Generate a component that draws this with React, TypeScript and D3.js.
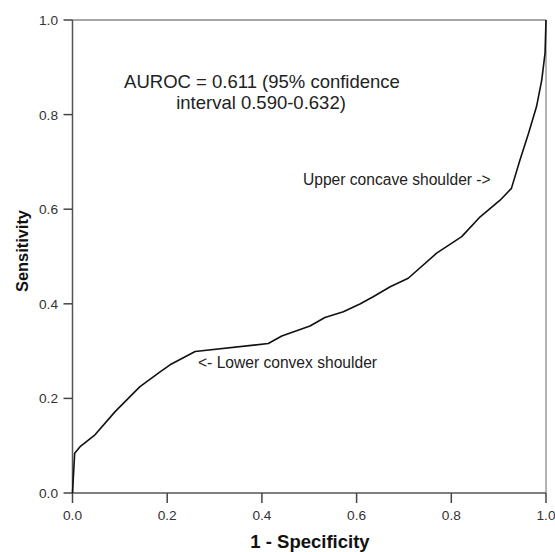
import React from "react";
import * as d3 from "d3";

// ROC curve coordinates (false positive rate vs. true positive rate)
const fpr = [0, 0.0046, 0.016, 0.0475, 0.09, 0.1425, 0.185, 0.206, 0.259, 0.4135, 0.442, 0.5016, 0.533, 0.572, 0.607, 0.635, 0.671, 0.709, 0.769, 0.822, 0.861, 0.903, 0.927, 0.945, 0.963, 0.98, 0.991, 0.998, 1.0];
const tpr = [0, 0.084, 0.098, 0.123, 0.172, 0.225, 0.256, 0.271, 0.299, 0.316, 0.332, 0.353, 0.371, 0.383, 0.3996, 0.415, 0.436, 0.454, 0.507, 0.542, 0.584, 0.619, 0.644, 0.704, 0.76, 0.817, 0.873, 0.93, 1.0];

const xTicks = [0, 0.2, 0.4, 0.6, 0.8, 1.0];
const yTicks = [0, 0.2, 0.4, 0.6, 0.8, 1.0];

const aucLines = ["AUROC = 0.611 (95% confidence", "interval 0.590-0.632)"];
const upperNote = "Upper concave shoulder ->";
const lowerNote = "<- Lower convex shoulder";
const xTitle = "1 - Specificity";
const yTitle = "Sensitivity";

const W = 555;
const H = 552;
const left = 72.5;
const right = 546;
const top = 20;
const bottom = 493;

export default function App() {
  const x = d3.scaleLinear().domain([0, 1]).range([left, right]);
  const y = d3.scaleLinear().domain([0, 1]).range([bottom, top]);
  const fmt = d3.format(".1f");
  const pts: [number, number][] = fpr.map((f, i) => [f, tpr[i]]);
  const line = d3
    .line<[number, number]>()
    .x((d) => x(d[0]))
    .y((d) => y(d[1]));

  const font = "'Liberation Sans', Arial, sans-serif";

  return (
    <svg
      width={W}
      height={H}
      style={{ position: "absolute", left: 0, top: 0, background: "#fff" }}
      fontFamily={font}
    >
      <rect x={0} y={0} width={W} height={H} fill="#fff" />
      {/* frame: top and right edges */}
      <line x1={left} x2={right} y1={top} y2={top} stroke="#8a8a8a" strokeWidth={1.3} />
      <line x1={right} x2={right} y1={top} y2={bottom} stroke="#8a8a8a" strokeWidth={1.3} />
      {/* axes */}
      <line x1={left} x2={left} y1={top} y2={bottom} stroke="#555" strokeWidth={1.5} />
      <line x1={left} x2={right} y1={bottom} y2={bottom} stroke="#555" strokeWidth={1.5} />

      {yTicks.map((t) => (
        <g key={"y" + t}>
          <line x1={left - 9} x2={left} y1={y(t)} y2={y(t)} stroke="#444" strokeWidth={1.5} />
          <text x={58} y={y(t) + 5} textAnchor="end" fontSize={13.7} fill="#333">
            {fmt(t)}
          </text>
        </g>
      ))}
      {xTicks.map((t) => (
        <g key={"x" + t}>
          <line x1={x(t)} x2={x(t)} y1={bottom} y2={bottom + 10} stroke="#444" strokeWidth={1.5} />
          <text x={x(t)} y={520} textAnchor="middle" fontSize={13.7} fill="#333">
            {fmt(t)}
          </text>
        </g>
      ))}

      <path d={line(pts) ?? ""} fill="none" stroke="#111" strokeWidth={1.6} strokeLinejoin="round" />

      <text x={262} y={88} textAnchor="middle" fontSize={18.5} fill="#222">
        {aucLines[0]}
      </text>
      <text x={261} y={108.5} textAnchor="middle" fontSize={18.5} fill="#222">
        {aucLines[1]}
      </text>
      <text x={303} y={185} fontSize={15.6} fill="#222">
        {upperNote}
      </text>
      <text x={198} y={368} fontSize={15.6} fill="#222">
        {lowerNote}
      </text>

      <text x={310} y={548} textAnchor="middle" fontSize={18.5} fontWeight="bold" fill="#111">
        {xTitle}
      </text>
      <text
        transform={`translate(28,251) rotate(-90)`}
        textAnchor="middle"
        fontSize={16.4}
        fontWeight="bold"
        fill="#111"
      >
        {yTitle}
      </text>
    </svg>
  );
}
